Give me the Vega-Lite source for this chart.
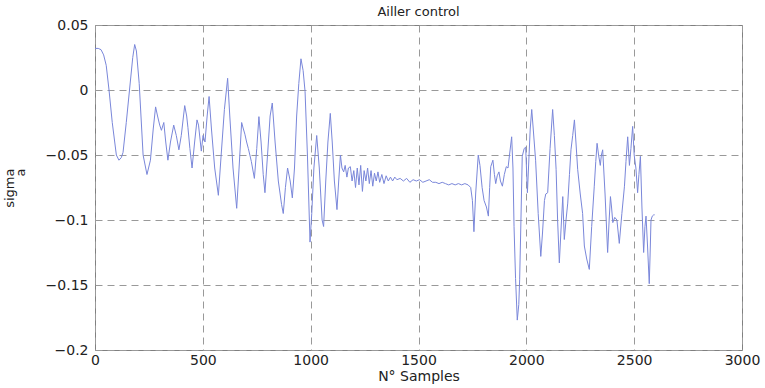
{
  "$schema": "https://vega.github.io/schema/vega-lite/v6.json",
  "width": 647,
  "height": 325,
  "autosize": {"type": "none"},
  "padding": {"left": 95, "top": 25, "right": 23, "bottom": 38},
  "background": "white",
  "title": {"text": "Ailler control", "font": "DejaVu Sans", "fontSize": 13, "fontWeight": "normal", "color": "#222", "offset": 7, "dy": 8, "frame": "group", "anchor": "middle"},
  "config": {
    "view": {"stroke": "#808080", "strokeWidth": 1},
    "axis": {
      "labelFont": "DejaVu Sans", "labelFontSize": 14, "labelColor": "#222",
      "titleFont": "DejaVu Sans", "titleFontWeight": "normal", "titleColor": "#222",
      "domain": false, "ticks": false,
      "grid": true, "gridColor": "#999", "gridDash": [7, 5], "gridWidth": 1, "gridOpacity": 1
    }
  },
  "data": {"values": [
    {"n":0,"s":0.032},{"n":15,"s":0.032},{"n":28,"s":0.031},{"n":40,"s":0.027},{"n":52,"s":0.019},{"n":65,"s":0.0},{"n":80,"s":-0.025},{"n":99,"s":-0.05},{"n":111,"s":-0.054},{"n":122,"s":-0.052},{"n":130,"s":-0.048},{"n":145,"s":-0.025},{"n":160,"s":0.0},{"n":175,"s":0.025},{"n":184,"s":0.035},{"n":192,"s":0.03},{"n":205,"s":0.005},{"n":223,"s":-0.05},{"n":241,"s":-0.065},{"n":257,"s":-0.054},{"n":270,"s":-0.03},{"n":281,"s":-0.013},{"n":290,"s":-0.02},{"n":300,"s":-0.027},{"n":308,"s":-0.031},{"n":319,"s":-0.025},{"n":328,"s":-0.04},{"n":338,"s":-0.054},{"n":350,"s":-0.04},{"n":365,"s":-0.027},{"n":377,"s":-0.035},{"n":389,"s":-0.046},{"n":400,"s":-0.035},{"n":416,"s":-0.012},{"n":425,"s":-0.02},{"n":431,"s":-0.029},{"n":440,"s":-0.045},{"n":450,"s":-0.06},{"n":462,"s":-0.04},{"n":473,"s":-0.023},{"n":480,"s":-0.027},{"n":493,"s":-0.047},{"n":501,"s":-0.035},{"n":510,"s":-0.04},{"n":520,"s":-0.02},{"n":529,"s":-0.005},{"n":540,"s":-0.03},{"n":555,"s":-0.06},{"n":572,"s":-0.081},{"n":585,"s":-0.05},{"n":600,"s":-0.015},{"n":615,"s":0.009},{"n":625,"s":-0.02},{"n":640,"s":-0.06},{"n":657,"s":-0.091},{"n":668,"s":-0.06},{"n":680,"s":-0.025},{"n":688,"s":-0.03},{"n":695,"s":-0.034},{"n":703,"s":-0.04},{"n":711,"s":-0.045},{"n":725,"s":-0.055},{"n":739,"s":-0.068},{"n":750,"s":-0.045},{"n":760,"s":-0.0205},{"n":770,"s":-0.04},{"n":780,"s":-0.065},{"n":788,"s":-0.079},{"n":800,"s":-0.05},{"n":812,"s":-0.02},{"n":822,"s":-0.01},{"n":835,"s":-0.04},{"n":850,"s":-0.07},{"n":865,"s":-0.088},{"n":873,"s":-0.095},{"n":883,"s":-0.075},{"n":893,"s":-0.06},{"n":905,"s":-0.07},{"n":915,"s":-0.083},{"n":925,"s":-0.06},{"n":935,"s":-0.02},{"n":945,"s":0.005},{"n":955,"s":0.024},{"n":965,"s":0.015},{"n":974,"s":-0.001},{"n":985,"s":-0.05},{"n":997,"s":-0.117},{"n":1005,"s":-0.095},{"n":1015,"s":-0.06},{"n":1028,"s":-0.035},{"n":1040,"s":-0.06},{"n":1053,"s":-0.1},{"n":1060,"s":-0.105},{"n":1070,"s":-0.07},{"n":1080,"s":-0.04},{"n":1091,"s":-0.018},{"n":1100,"s":-0.04},{"n":1110,"s":-0.07},{"n":1122,"s":-0.092},{"n":1130,"s":-0.07},{"n":1138,"s":-0.05},{"n":1145,"s":-0.06},{"n":1153,"s":-0.063},{"n":1160,"s":-0.058},{"n":1168,"s":-0.067},{"n":1175,"s":-0.06},{"n":1184,"s":-0.059},{"n":1192,"s":-0.07},{"n":1200,"s":-0.062},{"n":1208,"s":-0.075},{"n":1216,"s":-0.06},{"n":1224,"s":-0.073},{"n":1232,"s":-0.058},{"n":1240,"s":-0.078},{"n":1248,"s":-0.062},{"n":1256,"s":-0.07},{"n":1264,"s":-0.06},{"n":1272,"s":-0.072},{"n":1280,"s":-0.062},{"n":1288,"s":-0.074},{"n":1296,"s":-0.064},{"n":1304,"s":-0.07},{"n":1312,"s":-0.063},{"n":1320,"s":-0.071},{"n":1330,"s":-0.065},{"n":1340,"s":-0.072},{"n":1350,"s":-0.066},{"n":1360,"s":-0.07},{"n":1370,"s":-0.067},{"n":1380,"s":-0.07},{"n":1390,"s":-0.067},{"n":1400,"s":-0.069},{"n":1415,"s":-0.068},{"n":1430,"s":-0.07},{"n":1445,"s":-0.068},{"n":1460,"s":-0.071},{"n":1475,"s":-0.069},{"n":1490,"s":-0.07},{"n":1505,"s":-0.069},{"n":1520,"s":-0.071},{"n":1535,"s":-0.07},{"n":1550,"s":-0.069},{"n":1565,"s":-0.071},{"n":1580,"s":-0.071},{"n":1595,"s":-0.072},{"n":1610,"s":-0.071},{"n":1625,"s":-0.072},{"n":1640,"s":-0.073},{"n":1655,"s":-0.072},{"n":1670,"s":-0.073},{"n":1685,"s":-0.072},{"n":1700,"s":-0.073},{"n":1715,"s":-0.072},{"n":1730,"s":-0.073},{"n":1742,"s":-0.075},{"n":1750,"s":-0.085},{"n":1757,"s":-0.109},{"n":1765,"s":-0.08},{"n":1777,"s":-0.05},{"n":1785,"s":-0.058},{"n":1795,"s":-0.075},{"n":1804,"s":-0.085},{"n":1815,"s":-0.09},{"n":1824,"s":-0.097},{"n":1830,"s":-0.075},{"n":1835,"s":-0.059},{"n":1845,"s":-0.054},{"n":1852,"s":-0.065},{"n":1858,"s":-0.072},{"n":1865,"s":-0.066},{"n":1873,"s":-0.063},{"n":1880,"s":-0.07},{"n":1889,"s":-0.074},{"n":1898,"s":-0.065},{"n":1907,"s":-0.059},{"n":1915,"s":-0.06},{"n":1922,"s":-0.05},{"n":1932,"s":-0.036},{"n":1938,"s":-0.06},{"n":1943,"s":-0.105},{"n":1950,"s":-0.145},{"n":1958,"s":-0.177},{"n":1965,"s":-0.165},{"n":1969,"s":-0.146},{"n":1975,"s":-0.1},{"n":1981,"s":-0.051},{"n":1990,"s":-0.045},{"n":1997,"s":-0.044},{"n":2005,"s":-0.079},{"n":2010,"s":-0.06},{"n":2018,"s":-0.03},{"n":2025,"s":-0.015},{"n":2032,"s":-0.03},{"n":2043,"s":-0.054},{"n":2055,"s":-0.095},{"n":2067,"s":-0.128},{"n":2075,"s":-0.11},{"n":2084,"s":-0.085},{"n":2090,"s":-0.08},{"n":2099,"s":-0.079},{"n":2110,"s":-0.045},{"n":2122,"s":-0.015},{"n":2130,"s":-0.035},{"n":2138,"s":-0.061},{"n":2145,"s":-0.1},{"n":2153,"s":-0.133},{"n":2160,"s":-0.11},{"n":2169,"s":-0.082},{"n":2176,"s":-0.115},{"n":2184,"s":-0.1},{"n":2192,"s":-0.087},{"n":2200,"s":-0.065},{"n":2207,"s":-0.046},{"n":2215,"s":-0.035},{"n":2223,"s":-0.023},{"n":2230,"s":-0.04},{"n":2238,"s":-0.061},{"n":2250,"s":-0.08},{"n":2261,"s":-0.095},{"n":2269,"s":-0.12},{"n":2280,"s":-0.13},{"n":2292,"s":-0.138},{"n":2303,"s":-0.105},{"n":2315,"s":-0.074},{"n":2322,"s":-0.055},{"n":2328,"s":-0.041},{"n":2335,"s":-0.05},{"n":2343,"s":-0.058},{"n":2348,"s":-0.05},{"n":2354,"s":-0.046},{"n":2365,"s":-0.08},{"n":2377,"s":-0.125},{"n":2384,"s":-0.1},{"n":2390,"s":-0.082},{"n":2395,"s":-0.09},{"n":2401,"s":-0.102},{"n":2410,"s":-0.098},{"n":2420,"s":-0.1},{"n":2431,"s":-0.118},{"n":2443,"s":-0.095},{"n":2455,"s":-0.074},{"n":2462,"s":-0.055},{"n":2470,"s":-0.036},{"n":2478,"s":-0.058},{"n":2485,"s":-0.045},{"n":2493,"s":-0.028},{"n":2500,"s":-0.05},{"n":2508,"s":-0.06},{"n":2516,"s":-0.079},{"n":2522,"s":-0.065},{"n":2529,"s":-0.051},{"n":2536,"s":-0.09},{"n":2544,"s":-0.125},{"n":2550,"s":-0.105},{"n":2555,"s":-0.097},{"n":2562,"s":-0.12},{"n":2570,"s":-0.149},{"n":2575,"s":-0.12},{"n":2578,"s":-0.1},{"n":2584,"s":-0.097},{"n":2591,"s":-0.096},{"n":2595,"s":-0.096}
  ]},
  "mark": {"type": "line", "color": "#7a87da", "strokeWidth": 1, "interpolate": "linear"},
  "encoding": {
    "x": {
      "field": "n", "type": "quantitative",
      "scale": {"domain": [0, 3000], "nice": false, "zero": false},
      "axis": {"title": "N° Samples", "titleFontSize": 14, "titlePadding": 2, "format": "d", "values": [0, 500, 1000, 1500, 2000, 2500, 3000], "labelPadding": 3, "labelFlush": false}
    },
    "y": {
      "field": "s", "type": "quantitative",
      "scale": {"domain": [-0.2, 0.05], "nice": false, "zero": false},
      "axis": {"title": ["sigma", "a"], "titleFontSize": 13, "titleLineHeight": 11, "titlePadding": 18, "titleAlign": "right", "titleY": 143, "format": "~g", "values": [-0.2, -0.15, -0.1, -0.05, 0, 0.05], "labelPadding": 7, "labelFlush": false}
    }
  }
}
